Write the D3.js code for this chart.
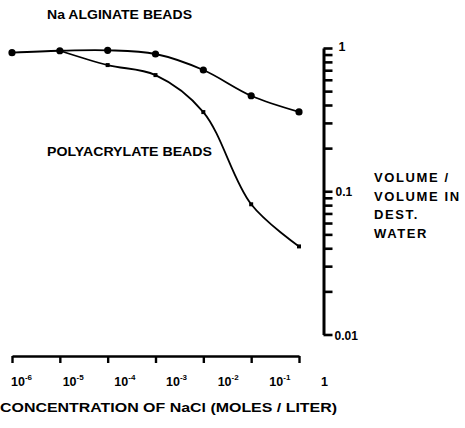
<!DOCTYPE html>
<html>
<head>
<meta charset="utf-8">
<script src="https://cdn.jsdelivr.net/npm/d3@7"></script>
<style>
  body { margin: 0; background: #fff; }
  text { font-family: "Liberation Sans", Arial, sans-serif; font-weight: bold; fill: #000; }
</style>
</head>
<body>
<div id="vis"></div>
<script>
// concentrations of NaCl (moles / liter)
var concAlginate = [1e-6, 1e-5, 1e-4, 1e-3, 1e-2, 1e-1, 1];
var volAlginate  = [0.927, 0.957, 0.964, 0.908, 0.702, 0.464, 0.358];

var concPoly = [1e-5, 1e-4, 1e-3, 1e-2, 1e-1, 1];
var volPoly  = [0.957, 0.76, 0.647, 0.357, 0.0811, 0.0412];

var xTicks = [1e-6, 1e-5, 1e-4, 1e-3, 1e-2, 1e-1, 1];
var xTickExp = ['-6', '-5', '-4', '-3', '-2', '-1', ''];
var rightTitle = ['VOLUME /', 'VOLUME IN', 'DEST.', 'WATER'];

var width = 465,
    height = 428;

var svg = d3.select('#vis')
            .append('svg')
            .attr('width', width)
            .attr('height', height);

svg.append('rect')
   .attr('width', width)
   .attr('height', height)
   .attr('fill', '#fff');

var xScale = d3.scaleLog().domain([1e-6, 1]).range([12, 299]);
// tick labels drift a bit to the right in the original
var xLabelScale = d3.scaleLog().domain([1e-6, 1]).range([11, 321]);
var yScale = d3.scaleLog().domain([0.01, 1]).range([334.5, 48]);

var axisY = 356,
    axisX = 323.5;

// x axis
var xAxis = d3.axisBottom(xScale)
              .tickValues(xTicks)
              .tickFormat('')
              .tickSize(7)
              .tickSizeOuter(0);

var xAxisG = svg.append('g')
                .attr('transform', `translate(0, ${axisY})`)
                .call(xAxis);
xAxisG.select('.domain').attr('stroke-width', 2.6);
xAxisG.selectAll('.tick line').attr('stroke-width', 2.4);

var xLab = svg.append('g');
xTicks.forEach(function(v, i){
    var t = xLab.append('text')
                .attr('x', xLabelScale(v))
                .attr('y', 386)
                .attr('font-size', 12.5);
    if (xTickExp[i] === '') {
        t.text('1');
    } else {
        t.append('tspan').text('10');
        t.append('tspan')
         .attr('font-size', 8)
         .attr('dy', -6)
         .attr('dx', 0)
         .text(xTickExp[i]);
    }
});

svg.append('text')
   .attr('x', 0)
   .attr('y', 412)
   .attr('font-size', 13.5)
   .attr('textLength', 337)
   .attr('lengthAdjust', 'spacingAndGlyphs')
   .text('CONCENTRATION OF NaCl (MOLES / LITER)');

// y axis (log, on the right side of the plot)
var yTickVals = [];
[0.01, 0.1].forEach(function(d){
    for (var k = 1; k < 10; k++) yTickVals.push(+(d * k).toFixed(3));
});
yTickVals.push(1);

var yAxis = d3.axisRight(yScale)
              .tickValues(yTickVals)
              .tickFormat('')
              .tickSize(9)
              .tickSizeOuter(0);

var yAxisG = svg.append('g')
                .attr('transform', `translate(${axisX}, 0)`)
                .call(yAxis);
yAxisG.select('.domain').attr('stroke-width', 3);
yAxisG.selectAll('.tick line').attr('stroke-width', 2.6);

svg.append('text')
   .attr('x', axisX + 15)
   .attr('y', yScale(1) + 3)
   .attr('font-size', 12.5)
   .text('1');
svg.append('text')
   .attr('x', axisX + 12)
   .attr('y', yScale(0.1) + 5)
   .attr('font-size', 12)
   .text('0.1');
svg.append('text')
   .attr('x', axisX + 11)
   .attr('y', yScale(0.01) + 5)
   .attr('font-size', 12)
   .text('0.01');

rightTitle.forEach(function(s, i){
    svg.append('text')
       .attr('x', 374)
       .attr('y', 182 + i * 18.7)
       .attr('font-size', 13)
       .attr('letter-spacing', 1.6)
       .text(s);
});

// series labels
svg.append('text')
   .attr('x', 47)
   .attr('y', 19)
   .attr('font-size', 12)
   .attr('textLength', 145)
   .attr('lengthAdjust', 'spacingAndGlyphs')
   .text('Na ALGINATE BEADS');

svg.append('text')
   .attr('x', 47)
   .attr('y', 156)
   .attr('font-size', 12)
   .attr('textLength', 165)
   .attr('lengthAdjust', 'spacingAndGlyphs')
   .text('POLYACRYLATE  BEADS');

// curves
var line = d3.line()
             .x(function(d){ return xScale(d[0]); })
             .y(function(d){ return yScale(d[1]); })
             .curve(d3.curveCatmullRom.alpha(0.5));

var alginate = concAlginate.map(function(c, i){ return [c, volAlginate[i]]; });
var poly = concPoly.map(function(c, i){ return [c, volPoly[i]]; });

svg.append('path')
   .datum(poly)
   .attr('d', line)
   .attr('fill', 'none')
   .attr('stroke', '#000')
   .attr('stroke-width', 1.8);

svg.append('path')
   .datum(alginate)
   .attr('d', line)
   .attr('fill', 'none')
   .attr('stroke', '#000')
   .attr('stroke-width', 1.8);

svg.selectAll('rect.poly')
   .data(poly.slice(1))
   .enter()
   .append('rect')
   .attr('class', 'poly')
   .attr('x', function(d){ return xScale(d[0]) - 2; })
   .attr('y', function(d){ return yScale(d[1]) - 2; })
   .attr('width', 4)
   .attr('height', 4)
   .attr('fill', '#000');

svg.selectAll('circle.alg')
   .data(alginate)
   .enter()
   .append('circle')
   .attr('class', 'alg')
   .attr('cx', function(d){ return xScale(d[0]); })
   .attr('cy', function(d){ return yScale(d[1]); })
   .attr('r', 3.6)
   .attr('fill', '#000');
</script>
</body>
</html>
